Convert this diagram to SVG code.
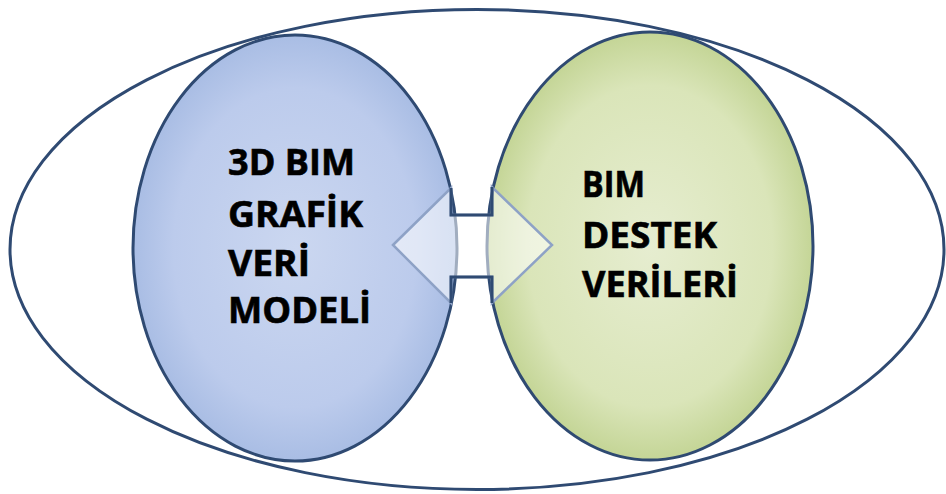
<svg xmlns="http://www.w3.org/2000/svg" width="946" height="494" viewBox="0 0 946 494">
<defs>
<radialGradient id="gBlue" cx="0.5" cy="0.5" r="0.5">
<stop offset="0" stop-color="#cbd7f0"/>
<stop offset="0.75" stop-color="#bccbec"/>
<stop offset="1" stop-color="#a9bde4"/>
</radialGradient>
<radialGradient id="gGreen" cx="0.5" cy="0.5" r="0.5">
<stop offset="0" stop-color="#e6edd0"/>
<stop offset="0.75" stop-color="#dae5b9"/>
<stop offset="1" stop-color="#c4d596"/>
</radialGradient>
<style>
.ring{fill:none;stroke:#2f4a72;stroke-width:3}
.node{stroke:#2f4a72;stroke-width:3}
.lbl{font-family:"Open Sans","Liberation Sans",sans-serif;font-weight:700;font-size:35px;fill:#000;stroke:#000;stroke-width:0.6}
.arrowbody{fill:#ffffff;fill-opacity:0.55;stroke:#8ea2c6;stroke-width:2.5;stroke-linejoin:miter}
.arrowdark{fill:none;stroke:#2f4a72;stroke-width:3;stroke-linejoin:miter}
</style>
</defs>
<rect width="946" height="494" fill="#ffffff"/>
<g id="outer">
<ellipse class="ring" cx="477" cy="249.5" rx="467" ry="240"/>
</g>
<g id="node-left">
<ellipse class="node" cx="295" cy="248" rx="162" ry="213" fill="url(#gBlue)"/>
</g>
<g id="node-right">
<ellipse class="node" cx="650" cy="246" rx="163" ry="214" fill="url(#gGreen)"/>
</g>
<g id="connectors">
<polygon class="arrowbody" points="393,245 451,188 451,215 492,215 492,187 552,245 492,303 492,277 451,277 451,303"/>
<polyline class="arrowdark" points="451,188 451,215 492,215 492,187"/>
<polyline class="arrowdark" points="451,303 451,277 492,277 492,303"/>
</g>
<g id="label-left">
<text class="lbl" x="228" y="175" textLength="127" lengthAdjust="spacingAndGlyphs">3D BIM</text>
<text class="lbl" x="228" y="227" textLength="135" lengthAdjust="spacingAndGlyphs">GRAFİK</text>
<text class="lbl" x="228" y="276" textLength="82" lengthAdjust="spacingAndGlyphs">VERİ</text>
<text class="lbl" x="228" y="323" textLength="143" lengthAdjust="spacingAndGlyphs">MODELİ</text>
</g>
<g id="label-right">
<text class="lbl" x="582" y="197" textLength="63" lengthAdjust="spacingAndGlyphs">BIM</text>
<text class="lbl" x="582" y="248" textLength="135" lengthAdjust="spacingAndGlyphs">DESTEK</text>
<text class="lbl" x="582" y="297" textLength="156" lengthAdjust="spacingAndGlyphs">VERİLERİ</text>
</g>
</svg>
